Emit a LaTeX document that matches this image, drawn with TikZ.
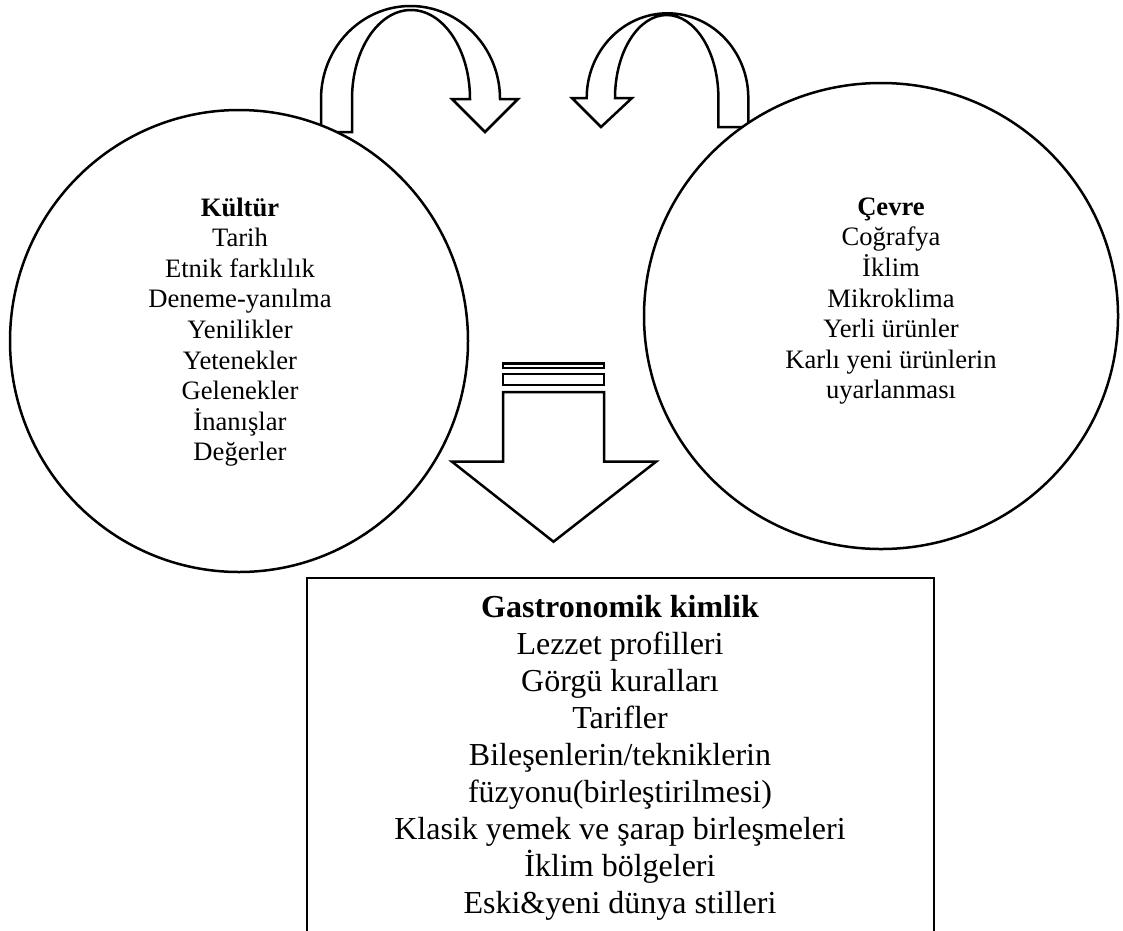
\documentclass[tikz,border=0pt]{standalone}
\usepackage{fontspec}
\setmainfont{Liberation Serif}
\begin{document}
\begin{tikzpicture}[x=1pt,y=-1pt,
  blockshape/.style={draw=black, fill=white, line width=2.5pt, line join=miter},
  circletext/.style={align=center, inner sep=0pt, anchor=north, font=\fontsize{26.6}{30.6}\selectfont},
  boxtext/.style={align=center, inner sep=0pt, anchor=north, font=\fontsize{32}{36.9}\selectfont}]
\useasboundingbox (0,0) rectangle (1123,930);
% curved arrow from Kultur
\draw[blockshape] (321,132) -- (321,99)
  arc[start angle=180, end angle=360, x radius=89.5, y radius=93]
  -- (518,99) -- (485,132) -- (452,99) -- (470,99)
  arc[start angle=360, end angle=180, x radius=59, y radius=89]
  -- (352,132) -- cycle;
% curved arrow from Cevre
\draw[blockshape] (748.3,127) -- (748.3,98)
  arc[start angle=0, end angle=-180, x radius=80.8, y radius=84.7]
  -- (572,98) -- (601,127) -- (632,98) -- (615,98)
  arc[start angle=180, end angle=360, x radius=51.7, y radius=83]
  -- (718.4,127) -- cycle;
% circles
\draw[blockshape] (239,341) ellipse [x radius=229, y radius=231];
\draw[blockshape] (881,316) ellipse [x radius=237, y radius=233];
% down arrow
\draw[blockshape] (503,363.5) rectangle (604,368.2);
\draw[blockshape] (503,374) rectangle (604,384.8);
\draw[blockshape] (503,392) -- (604,392) -- (604,461.7) -- (656,461.7)
  -- (553.5,541.7) -- (452,461.7) -- (503,461.7) -- cycle;
% box
\draw[blockshape] (307,578) rectangle (934,980);
% texts
\node[circletext] (kultur) at (240,197.4) {\textbf{Kültür}\\Tarih\\Etnik farklılık\\Deneme-yanılma\\Yenilikler\\Yetenekler\\Gelenekler\\İnanışlar\\Değerler};
\node[circletext] (cevre) at (891,197.5) {\textbf{Çevre}\\Coğrafya\\İklim\\Mikroklima\\Yerli ürünler\\Karlı yeni ürünlerin\\uyarlanması};
\node[boxtext] (gastro) at (620,595.5) {\textbf{Gastronomik kimlik}\\Lezzet profilleri\\Görgü kuralları\\Tarifler\\Bileşenlerin/tekniklerin\\füzyonu(birleştirilmesi)\\Klasik yemek ve şarap birleşmeleri\\İklim bölgeleri\\Eski\&yeni dünya stilleri};
\end{tikzpicture}
\end{document}
